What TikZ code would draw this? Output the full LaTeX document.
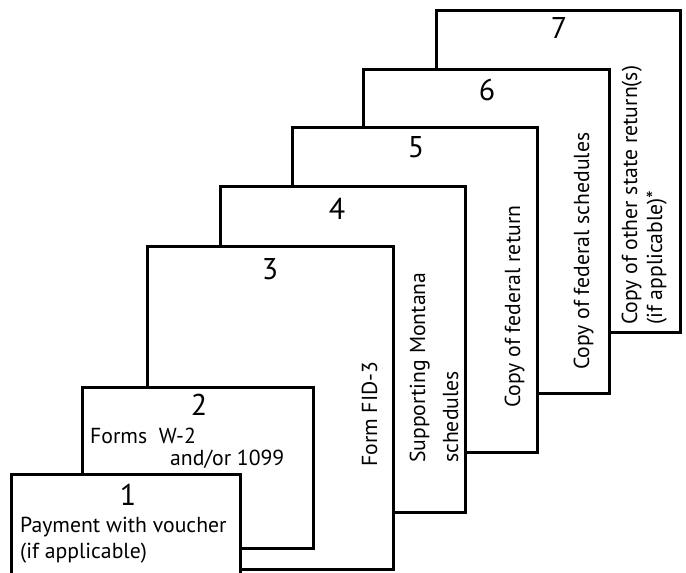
\documentclass[tikz,border=0pt]{standalone}
\usepackage{fontspec}
\setmainfont{PT Sans}
\tikzset{
  foglio/.style={draw, fill=white, line width=3pt, inner sep=0pt, outer sep=0pt, anchor=north west},
  numero/.style={font=\fontsize{30}{30}\selectfont, inner sep=0pt, anchor=base},
  riga/.style={font=\fontsize{21.7}{26}\selectfont, inner sep=0pt, anchor=base west},
  rigavert/.style={riga, rotate=90}
}
\begin{document}
\begin{tikzpicture}[x=1pt, y=-1pt]
    % cornice
    \useasboundingbox (0,0) rectangle (686,573);
    \clip (0,0) rectangle (686,573);
    % foglio 7
    \node[foglio, minimum width=244pt, minimum height=322pt] (s7) at (436,10) {};
    \node[numero] (n7) at (559,38) {7};
    \node[rigavert] (t7a) at (637,325) {Copy of other state return(s)};
    \node[rigavert] (t7b) at (662,325) {(if applicable)*};
    % foglio 6
    \node[foglio, minimum width=246pt, minimum height=324pt] (s6) at (363,69) {};
    \node[numero] (n6) at (487,100) {6};
    \node[rigavert] (t6) at (589,370) {Copy of federal schedules};
    % foglio 5
    \node[foglio, minimum width=245pt, minimum height=325pt] (s5) at (292,127) {};
    \node[numero] (n5) at (416,157) {5};
    \node[rigavert] (t5) at (520,408) {Copy of federal return};
    % foglio 4
    \node[foglio, minimum width=245pt, minimum height=326pt] (s4) at (220,186) {};
    \node[numero] (n4) at (337,219) {4};
    \node[rigavert] (t4a) at (425,463) {Supporting Montana};
    \node[rigavert] (t4b) at (458,463) {schedules};
    % foglio 3
    \node[foglio, minimum width=246pt, minimum height=323pt] (s3) at (147,246) {};
    \node[numero] (n3) at (270,279) {3};
    \node[rigavert] (t3) at (377,467) {Form FID-3};
    % foglio 2
    \node[foglio, minimum width=231pt, minimum height=161pt] (s2) at (82,387) {};
    \node[numero] (n2) at (199,415) {2};
    \node[riga] (t2a) at (90,443) {Forms\ \ W-2};
    \node[riga] (t2b) at (170,465) {and/or 1099};
    % foglio 1 (esce dal bordo in basso)
    \node[foglio, minimum width=229pt, minimum height=150pt] (s1) at (11,474) {};
    \node[numero] (n1) at (128,505) {1};
    \node[riga] (t1a) at (20,532) {Payment with voucher};
    \node[riga] (t1b) at (20,558) {(if applicable)};
\end{tikzpicture}
\end{document}
